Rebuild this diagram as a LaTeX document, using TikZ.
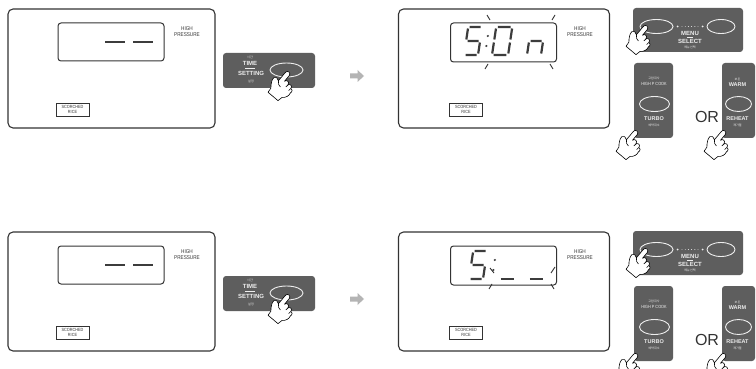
\documentclass[tikz,border=0pt]{standalone}
\usepackage{fontspec}
\setmainfont{Liberation Sans}
\newfontfamily\korfont{Noto Sans CJK KR}
\usetikzlibrary{shapes.geometric}

\definecolor{ink}{HTML}{333333}
\definecolor{keypad}{HTML}{5E5E5E}
\definecolor{keytext}{HTML}{EEEEEE}
\definecolor{segcol}{HTML}{3C3C3C}
\definecolor{arrowgrey}{HTML}{B4B4B4}

% horizontally condensed text
\newcommand{\sqz}[1]{\scalebox{0.85}[1]{#1}}

\tikzset{
  panel/.style={draw=ink, line width=1.1pt, rounded corners=5pt, inner sep=0pt},
  lcd/.style={draw=ink, line width=1pt, rounded corners=3pt, inner sep=0pt},
  keypad/.style={fill=keypad, rounded corners=3pt, inner sep=0pt},
  keyoval/.style={ellipse, draw=keytext, line width=0.9pt, inner sep=0pt},
  seg/.style={draw=segcol, line width=2.2pt},
  blink/.style={draw=ink, line width=0.9pt},
  lbl/.style={font=\fontsize{5.5}{6}\selectfont, text=ink, align=center, inner sep=0pt},
  scbox/.style={draw=ink, line width=0.6pt, font=\fontsize{4.5}{4.8}\selectfont,
    text=ink, align=center, inner sep=0pt, minimum width=33pt, minimum height=13pt},
  keylbl/.style={font=\fontsize{6}{6}\selectfont\bfseries, text=keytext, inner sep=0pt},
  keysmall/.style={font=\fontsize{4.5}{4.5}\selectfont, text=keytext, inner sep=0pt},
  kortxt/.style={font=\korfont\fontsize{3}{3}\selectfont, text=keytext, inner sep=0pt},
  ortext/.style={font=\fontsize{16}{16}\selectfont, text=ink, inner sep=0pt},
  handline/.style={draw=black, fill=white, line width=0.6pt, line join=round},
  % pointing hand, finger tip at the origin, finger pointing up
  hand/.pic={
    \draw[handline] (-2.5,13.5) -- (-2.5,2.5) arc[start angle=180,end angle=360,radius=2.5] -- (2.5,10)
      .. controls (3,7) and (7,7) .. (7.5,10.5)
      .. controls (8.5,8) and (12,8.5) .. (12,11.5)
      .. controls (13.5,10.5) and (15.5,12.5) .. (14.5,15.5)
      .. controls (15.5,18) and (14,22) .. (11,24)
      -- (10,29) -- (-3,29) -- (-3.5,24)
      .. controls (-6,21) and (-8.5,17) .. (-8,14)
      .. controls (-7.5,11.5) and (-4.5,12) .. (-2.5,13.5) -- cycle;
    \draw[handline, fill=none] (7.5,10.5) -- (7.2,13.5) (12,11.5) -- (11.7,14.5)
      (-2.5,13.5) .. controls (-1,16) and (1,17) .. (3,17);
  },
  % seven-segment glyphs, origin at the bottom-left corner
  glyphfive/.pic={
    \draw[seg] (1.5,-28) -- (12.5,-28) (0,-26.5) -- (0,-15.5) (1.5,-14) -- (12.5,-14)
      (14,-12.5) -- (14,-1.5) (1.5,0) -- (12.5,0);
  },
  glyphzero/.pic={
    \draw[seg] (1.5,-28) -- (12.5,-28) (0,-26.5) -- (0,-15.5) (14,-26.5) -- (14,-15.5)
      (0,-12.5) -- (0,-1.5) (14,-12.5) -- (14,-1.5) (1.5,0) -- (12.5,0);
  },
  glyphn/.pic={
    \draw[seg] (1.5,-14) -- (12.5,-14) (0,-12.5) -- (0,-1.5) (14,-12.5) -- (14,-1.5);
  },
  glyphlow/.pic={
    \draw[seg] (1.5,0) -- (12.5,0);
  },
  glyphcolon/.pic={
    \fill[segcol] (0,-19) circle (1.2) (0,-9) circle (1.2);
  }
}

\begin{document}
\begin{tikzpicture}[x=1pt,y=-1pt]
\useasboundingbox (0,0) rectangle (756,369);
\fill[white] (0,0) rectangle (756,369);

\foreach \r/\dy in {1/0,2/223} {
\begin{scope}[yshift=-\dy pt]
  % left cooker panel
  \node[panel, minimum width=207pt, minimum height=119pt] (lp\r) at (111.5,68.5) {};
  \node[lcd, minimum width=106pt, minimum height=38pt] (ld\r) at (111,42) {};
  \draw[seg] (105,42) -- (125,42) (133,42) -- (153,42);
  \node[lbl] (lhp\r) at (187,32) {\sqz{HIGH}\\\sqz{PRESSURE}};
  \node[scbox] (lsr\r) at (72.5,109.5) {\sqz{SCORCHED}\\\sqz{RICE}};

  % time setting key
  \node[keypad, minimum width=92pt, minimum height=35pt] (ts\r) at (269,70.5) {};
  \node[keyoval, minimum width=33pt, minimum height=14pt] (tsb\r) at (286.5,70) {};
  \node[kortxt] (tsk\r) at (250,57.5) {시간};
  \node[keylbl] (tst\r) at (250,63) {TIME};
  \draw[keytext, line width=0.3pt] (245,67.8) -- (255,67.8);
  \node[keylbl] (tss\r) at (251,73) {SETTING};
  \node[kortxt] (tsk2\r) at (251,81) {설정};
  \pic[rotate=-40] at (289,72) {hand};

  % step arrow
  \fill[arrowgrey] (350,73.5) -- (357.5,73.5) -- (357.5,70) -- (364,76) -- (357.5,82)
    -- (357.5,78.5) -- (350,78.5) -- cycle;

  % right cooker panel
  \node[panel, minimum width=211pt, minimum height=119pt] (rp\r) at (504,68.5) {};
  \node[lcd, minimum width=106pt, minimum height=39pt] (rd\r) at (503.5,42.5) {};
  \node[lbl] (rhp\r) at (580,32) {\sqz{HIGH}\\\sqz{PRESSURE}};
  \node[scbox] (rsr\r) at (466,109.5) {\sqz{SCORCHED}\\\sqz{RICE}};

  % menu select key
  \node[keypad, minimum width=110pt, minimum height=44pt] (mp\r) at (688,30) {};
  \node[keyoval, minimum width=33pt, minimum height=14pt] (mb\r) at (656.5,26.5) {};
  \node[keyoval, minimum width=28pt, minimum height=14pt] (mc\r) at (721,26.5) {};
  \fill[keytext] (677.5,26.5) circle (1) (702.5,26.5) circle (1);
  \foreach \k in {0,...,5} \fill[keytext] (682+3.2*\k,26.5) circle (0.45);
  \node[keylbl] (mm\r) at (690,33.5) {MENU};
  \draw[keytext, line width=0.3pt] (687,37.6) -- (693,37.6);
  \node[keylbl] (ms\r) at (690,41.5) {SELECT};
  \node[kortxt] (mk\r) at (690,47.5) {메뉴선택};
  \pic[rotate=-40] at (647,26) {hand};

  % turbo key
  \node[keypad, minimum width=39pt, minimum height=75pt] (tp\r) at (653.5,100.5) {};
  \node[kortxt] (tk\r) at (654,78) {고압취사};
  \node[keysmall] (th\r) at (654,84) {\sqz{HIGH P COOK}};
  \node[keyoval, minimum width=30pt, minimum height=15pt] (tb\r) at (654.5,104) {};
  \node[keylbl, font=\fontsize{5.5}{5.5}\selectfont\bfseries] (tt\r) at (654,119) {TURBO};
  \node[kortxt] (tk2\r) at (654,125) {예약취소};
  \pic[rotate=-40] at (637,131) {hand};

  \node[ortext] (or\r) at (707,117) {OR};

  % warm key
  \node[keypad, minimum width=33pt, minimum height=75pt] (wp\r) at (738.5,100.5) {};
  \node[kortxt] (wk\r) at (737.5,79) {보온};
  \node[keylbl, font=\fontsize{5.5}{5.5}\selectfont\bfseries] (ww\r) at (737.5,85) {WARM};
  \node[keyoval, minimum width=26pt, minimum height=15pt] (wb\r) at (738.5,104) {};
  \node[keylbl, font=\fontsize{5.5}{5.5}\selectfont\bfseries] (wr\r) at (737.5,119) {REHEAT};
  \node[kortxt] (wk2\r) at (737.5,125) {재가열};
  \pic[rotate=-40] at (725,131) {hand};
\end{scope}
}

% upper display: 5:On with the blinking part marked
\pic[xslant=0.15] at (464,55) {glyphfive};
\pic[xslant=0.15] at (485,55) {glyphcolon};
\pic[xslant=0.15, xscale=1.15] at (492,55) {glyphzero};
\pic[xslant=0.15] at (527,55) {glyphn};
\draw[blink] (490,20) -- (487,15) (552,20) -- (555,15) (488,64) -- (485,69) (550,64) -- (553,69);

% lower display: 5:_ _ with the blinking part marked
\begin{scope}[yshift=-223pt]
  \pic[xslant=0.15] at (469,56) {glyphfive};
  \pic[xslant=0.15] at (492,56) {glyphcolon};
  \pic[xslant=0.15, xscale=1.2] at (499,56) {glyphlow};
  \pic[xslant=0.15, xscale=1.2] at (528,56) {glyphlow};
  \draw[blink] (494,50) -- (490,45) (551,50) -- (555,44) (492,61) -- (489,66) (551,61) -- (554,66);
\end{scope}
\end{tikzpicture}
\end{document}
